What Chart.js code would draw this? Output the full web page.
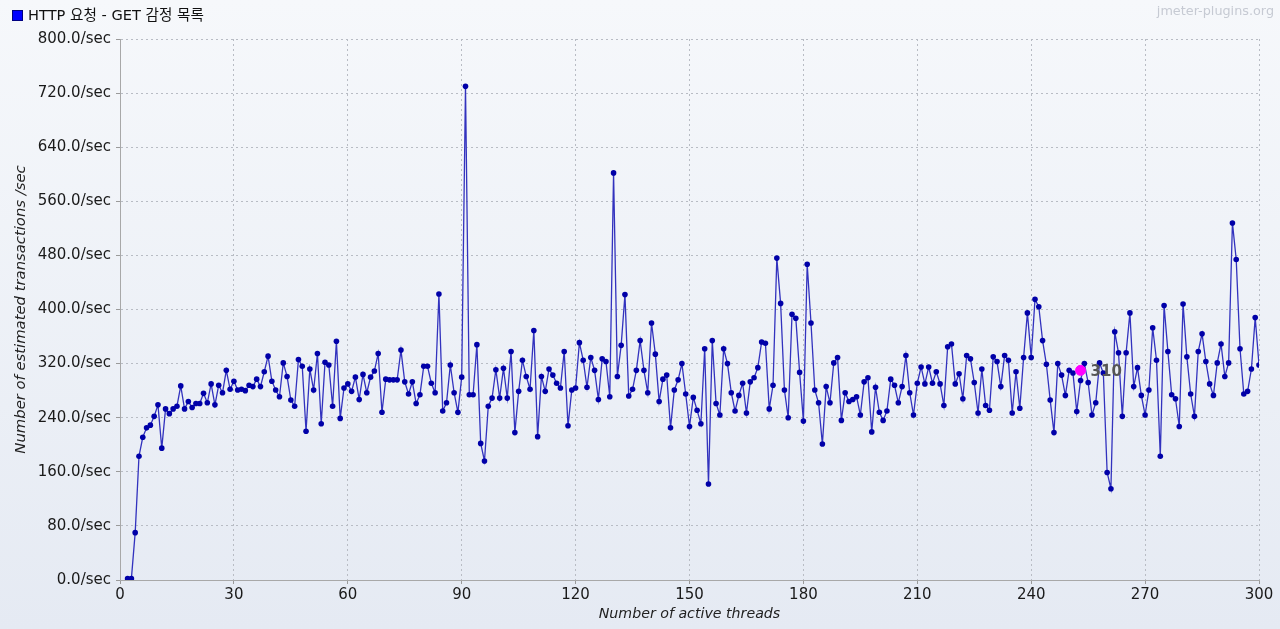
<!DOCTYPE html>
<html>
<head>
<meta charset="utf-8">
<script src="https://cdn.jsdelivr.net/npm/chart.js"></script>
<style>
  html, body { margin: 0; padding: 0; }
  body { width: 1280px; height: 629px; background: linear-gradient(#f6f8fb, #e5eaf3); overflow: hidden; }
  canvas { display: block; }
</style>
</head>
<body>
<canvas id="myChart" width="1280" height="629"></canvas>
<script>
const seriesName = 'HTTP 요청 - GET 감정 목록';
const firstThread = 2;
// transactions/sec for thread counts 2..300
const tps = [
  2, 2, 70, 183, 211, 225, 229, 242, 259, 195,
  253, 246, 253, 257, 287, 253, 264, 255, 261, 261,
  276, 262, 290, 259, 288, 277, 310, 282, 294, 281,
  282, 280, 288, 286, 297, 286, 308, 331, 294, 281,
  271, 321, 301, 266, 257, 326, 316, 220, 312, 281,
  335, 231, 322, 318, 257, 353, 239, 284, 290, 279,
  300, 267, 304, 277, 300, 309, 335, 248, 297, 296,
  296, 296, 340, 293, 275, 293, 261, 274, 316, 316,
  291, 277, 423, 250, 262, 318, 277, 248, 300, 730,
  274, 274, 348, 202, 176, 257, 269, 311, 269, 313,
  269, 338, 218, 279, 325, 301, 282, 369, 212, 301,
  279, 312, 303, 291, 284, 338, 228, 281, 284, 351,
  325, 285, 329, 310, 267, 327, 323, 271, 602, 301,
  347, 422, 272, 282, 310, 354, 310, 277, 380, 334,
  264, 297, 303, 225, 281, 296, 320, 275, 227, 270,
  251, 231, 342, 142, 354, 261, 244, 342, 320, 277,
  250, 273, 291, 247, 293, 299, 314, 352, 350, 253,
  288, 476, 409, 281, 240, 393, 387, 307, 235, 467,
  380, 281, 262, 201, 286, 262, 321, 329, 236, 277,
  264, 267, 271, 244, 293, 299, 219, 285, 248, 236,
  250, 297, 288, 262, 286, 332, 277, 244, 291, 315,
  290, 315, 291, 308, 290, 258, 345, 349, 290, 305,
  268, 332, 327, 292, 247, 312, 258, 251, 330, 323,
  286, 332, 325, 247, 308, 254, 329, 395, 329, 415,
  404, 354, 319, 266, 218, 320, 303, 273, 310, 306,
  249, 295, 320, 292, 244, 262, 321, 306, 159, 135,
  367, 336, 242, 336, 395, 286, 314, 273, 244, 281,
  373, 325, 183, 406, 338, 274, 268, 227, 408, 330,
  275, 242, 338, 364, 323, 290, 273, 321, 349, 301,
  321, 528, 474, 342, 275, 279, 312, 388, 318
];
const xTicks = [0, 30, 60, 90, 120, 150, 180, 210, 240, 270, 300];
const yTicks = [0, 80, 160, 240, 320, 400, 480, 560, 640, 720, 800];
// mouse-over marker shown in the screenshot
const hoverThread = 253;
const hoverValue = 310;

const points = tps.map((v, i) => ({ x: firstThread + i, y: v }));

const tickFont = { family: 'DejaVu Sans', size: 15 };

const extras = {
  id: 'extras',
  afterDraw(chart) {
    const ctx = chart.ctx;
    ctx.save();
    // legend
    ctx.fillStyle = '#0000ff';
    ctx.fillRect(12, 10, 11, 11);
    ctx.strokeStyle = '#000080';
    ctx.lineWidth = 1;
    ctx.strokeRect(12.5, 10.5, 10, 10);
    ctx.fillStyle = '#111';
    ctx.font = '14.6px "DejaVu Sans", "Noto Sans CJK KR"';
    ctx.textBaseline = 'middle';
    ctx.textAlign = 'left';
    ctx.fillText(seriesName, 28, 16);
    // watermark
    ctx.fillStyle = '#c6cad3';
    ctx.font = '12.8px "DejaVu Sans"';
    ctx.textAlign = 'right';
    ctx.fillText('jmeter-plugins.org', 1274, 12);
    // hover label
    const px = chart.scales.x.getPixelForValue(hoverThread);
    const py = chart.scales.y.getPixelForValue(hoverValue);
    ctx.fillStyle = '#555';
    ctx.font = 'bold 15px "DejaVu Sans"';
    ctx.textAlign = 'left';
    ctx.fillText(String(hoverValue), px + 10, py + 2);
    ctx.restore();
  }
};

new Chart(document.getElementById('myChart'), {
  type: 'line',
  data: {
    datasets: [
      {
        label: 'hover',
        data: [{ x: hoverThread, y: hoverValue }],
        showLine: false,
        pointRadius: 5,
        backgroundColor: '#ff00ff',
        borderColor: '#ff00ff'
      },
      {
        label: seriesName,
        data: points,
        borderColor: '#3232be',
        borderWidth: 1.3,
        pointRadius: 2.8,
        pointBackgroundColor: '#0000a8',
        pointBorderColor: '#0000a8',
        pointBorderWidth: 0,
        tension: 0
      }
    ]
  },
  options: {
    responsive: false,
    animation: false,
    layout: { padding: { left: 0, right: 21, top: 39, bottom: 0 } },
    plugins: { legend: { display: false }, tooltip: { enabled: false } },
    scales: {
      x: {
        type: 'linear',
        min: 0,
        max: 300,
        afterFit: (s) => { s.height = 49; },
        afterBuildTicks: (s) => { s.ticks = xTicks.map(v => ({ value: v })); },
        ticks: { font: tickFont, color: '#1a1a1a', padding: 2, maxRotation: 0 },
        grid: { color: '#b8bcc4', tickLength: 4, tickColor: '#9a9a9a', tickBorderDash: [] },
        border: { display: true, color: '#a8a8a8', dash: [2, 3] },
        title: { display: true, text: 'Number of active threads', font: { family: 'DejaVu Sans', size: 14.2, style: 'italic' }, color: '#222', padding: { top: 0, bottom: 6 } }
      },
      y: {
        min: 0,
        max: 800,
        afterFit: (s) => { s.width = 120; },
        afterBuildTicks: (s) => { s.ticks = yTicks.map(v => ({ value: v })); },
        ticks: { font: tickFont, color: '#1a1a1a', padding: 5, callback: (v) => v.toFixed(1) + '/sec' },
        grid: { color: '#b8bcc4', tickLength: 4, tickColor: '#9a9a9a', tickBorderDash: [] },
        border: { display: true, color: '#a8a8a8', dash: [2, 3] },
        title: { display: true, text: 'Number of estimated transactions /sec', font: { family: 'DejaVu Sans', size: 14.8, style: 'italic' }, color: '#222', padding: { top: 12, bottom: 0 } }
      }
    }
  },
  plugins: [extras]
});
</script>
</body>
</html>
